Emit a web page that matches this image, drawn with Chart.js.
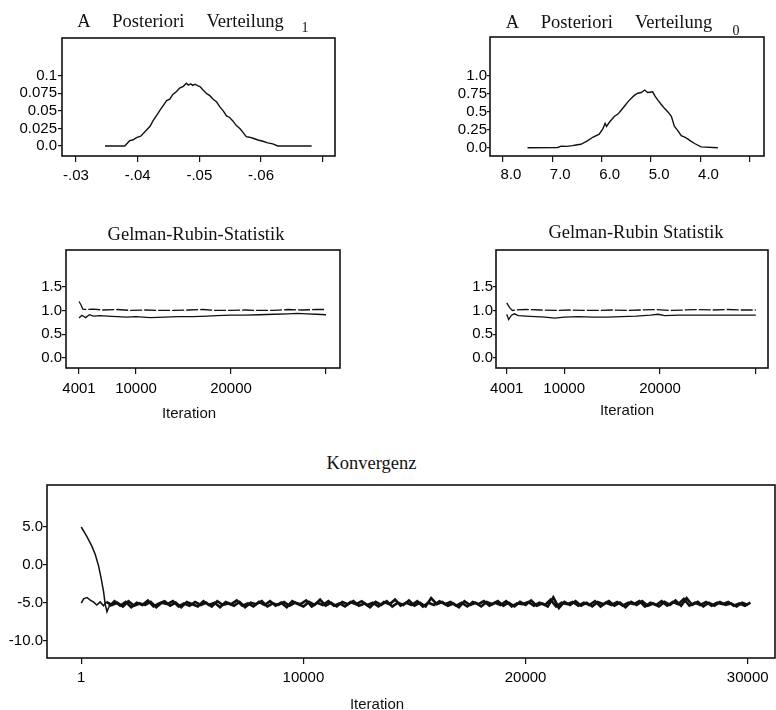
<!DOCTYPE html>
<html>
<head>
<meta charset="utf-8">
<script src="https://cdn.jsdelivr.net/npm/chart.js@4"></script>
<style>
  body { margin: 0; width: 776px; height: 710px; overflow: hidden; background: #fff; position: relative; }
  canvas { position: absolute; }
  .t { position: absolute; transform: translate(-50%, -50%); white-space: pre; line-height: 1; color: #111; }
  .serif { font-family: "Liberation Serif", "DejaVu Serif", serif; font-size: 18.5px; }
  .sans { font-family: "Liberation Sans", Arial, sans-serif; font-size: 15px; }
  .sub { font-family: "Liberation Serif", serif; font-size: 14px; }
</style>
</head>
<body>
<canvas id="p1"></canvas>
<canvas id="p2"></canvas>
<canvas id="p3"></canvas>
<canvas id="p4"></canvas>
<canvas id="p5"></canvas>

<div class="t serif" style="left:180.5px; top:20.5px; word-spacing:18px;">A Posteriori Verteilung</div>
<div class="t sub" style="left:305px; top:28px;">1</div>
<div class="t serif" style="left:609px; top:22px; word-spacing:18px;">A Posteriori Verteilung</div>
<div class="t sub" style="left:736px; top:30.5px;">0</div>
<div class="t serif" style="left:196px; top:233.5px;">Gelman-Rubin-Statistik</div>
<div class="t serif" style="left:636px; top:232px;">Gelman-Rubin Statistik</div>
<div class="t serif" style="left:371.5px; top:463px;">Konvergenz</div>
<div class="t sans" style="left:189px; top:412px;">Iteration</div>
<div class="t sans" style="left:627px; top:409px;">Iteration</div>
<div class="t sans" style="left:377px; top:703px;">Iteration</div>

<script>
// ---- posterior of beta 1
let post1X = [-0.0347, -0.0379, -0.0387, -0.0392, -0.0398, -0.0405, -0.0414, -0.0420, -0.0425, -0.0431, -0.0436, -0.0441,
  -0.0447, -0.0452, -0.0457, -0.0463, -0.0468, -0.0474, -0.0479, -0.0482, -0.0486, -0.0489, -0.0493, -0.0497, -0.0501,
  -0.0506, -0.0512, -0.0517, -0.0522, -0.0528, -0.0533, -0.0539, -0.0544, -0.0549, -0.0554, -0.0560, -0.0566, -0.0571,
  -0.0576, -0.0581, -0.0587, -0.0595, -0.0603, -0.0611, -0.0619, -0.0627, -0.0682]
let post1Y = [0, 0, 0.0076, 0.0085, 0.012, 0.014, 0.0223, 0.028, 0.036, 0.044, 0.0507, 0.057,
  0.0645, 0.0665, 0.0733, 0.0775, 0.0823, 0.0848, 0.089, 0.0865, 0.0884, 0.0862, 0.0877, 0.0858, 0.0843,
  0.0795, 0.0743, 0.0715, 0.0667, 0.0625, 0.056, 0.0495, 0.0427, 0.0405, 0.036, 0.029, 0.0244, 0.019,
  0.0133, 0.0125, 0.011, 0.0085, 0.0067, 0.0045, 0.003, 0, 0]
let post1Ticks = [-0.03, -0.04, -0.05, -0.06, -0.07]
let post1TickLabels = ["-.03", "-.04", "-.05", "-.06", ""]
let post1YTicks = [0, 0.025, 0.05, 0.075, 0.1]
let post1YLabels = ["0.0", "0.025", "0.05", "0.075", "0.1"]

// ---- posterior of beta 0
let post0X = [7.5, 6.89, 6.82, 6.70, 6.59, 6.52, 6.42, 6.28, 6.18, 6.05, 5.98, 5.93, 5.90, 5.84, 5.74, 5.67, 5.61,
  5.54, 5.47, 5.40, 5.34, 5.27, 5.20, 5.13, 5.07, 5.02, 4.97, 4.92, 4.86, 4.79, 4.73, 4.66, 4.59, 4.53, 4.46,
  4.39, 4.32, 4.26, 4.19, 4.12, 3.99, 3.65]
let post0Y = [0, 0.005, 0.023, 0.02, 0.03, 0.04, 0.049, 0.10, 0.147, 0.19, 0.26, 0.34, 0.30, 0.36, 0.44, 0.47, 0.52,
  0.58, 0.64, 0.69, 0.73, 0.76, 0.77, 0.805, 0.77, 0.775, 0.78, 0.72, 0.66, 0.6, 0.55, 0.5, 0.44, 0.30, 0.24,
  0.17, 0.15, 0.125, 0.09, 0.06, 0.013, 0]
let post0Ticks = [8, 7, 6, 5, 4, 3]
let post0TickLabels = ["8.0", "7.0", "6.0", "5.0", "4.0", ""]
let post0YTicks = [0, 0.25, 0.5, 0.75, 1.0]
let post0YLabels = ["0.0", "0.25", "0.5", "0.75", "1.0"]

// ---- Gelman-Rubin, left
let grAIterUp = [4001, 4200, 4400, 4800, 5500, 6500, 8000, 9500, 11000, 12500, 14000, 15500, 17000, 18500, 20000,
  21500, 23000, 24500, 26000, 27500, 29000, 30000]
let grAUp = [1.19, 1.12, 1.03, 1.02, 1.03, 1.01, 1.02, 1.0, 1.01, 1.0, 1.0, 1.01, 1.02, 1.0, 1.0,
  1.01, 1.0, 1.0, 1.02, 1.01, 1.02, 1.02]
let grAIterLow = [4001, 4300, 4700, 5100, 5500, 6200, 7000, 8000, 9000, 10000, 11500, 13000, 14500, 16000, 17500,
  18500, 20000, 21500, 23000, 24500, 26000, 27000, 28000, 29000, 30000]
let grALow = [0.84, 0.9, 0.85, 0.91, 0.88, 0.89, 0.88, 0.87, 0.86, 0.87, 0.85, 0.86, 0.87, 0.87, 0.88,
  0.89, 0.9, 0.9, 0.91, 0.92, 0.93, 0.94, 0.93, 0.92, 0.91]

// ---- Gelman-Rubin, right
let grBIterUp = [4001, 4300, 4600, 5000, 6000, 7500, 9000, 10500, 12000, 13500, 15000, 16500, 18000, 19500, 21000,
  22500, 24000, 25500, 27000, 28500, 30000]
let grBUp = [1.16, 1.06, 1.0, 1.01, 1.02, 1.01, 1.0, 1.01, 1.0, 1.0, 1.01, 1.0, 1.01, 1.02, 1.0,
  1.01, 1.02, 1.01, 1.02, 1.01, 1.01]
let grBIterLow = [4001, 4200, 4500, 4800, 5200, 6000, 7000, 8000, 9000, 10000, 11500, 13000, 14500, 16000, 17500,
  19000, 19800, 20500, 22000, 24000, 26000, 28000, 30000]
let grBLow = [0.92, 0.81, 0.9, 0.93, 0.89, 0.88, 0.87, 0.86, 0.84, 0.86, 0.87, 0.86, 0.86, 0.87, 0.88,
  0.9, 0.92, 0.89, 0.9, 0.9, 0.9, 0.9, 0.9]

let grTicks = [4001, 10000, 20000, 30000]
let grTickLabels = ["4001", "10000", "20000", ""]
let grYTicks = [0, 0.5, 1.0, 1.5]
let grYLabels = ["0.0", "0.5", "1.0", "1.5"]

// ---- Konvergenz: two chains, start segment + samples every 250 iterations
let chain1StartIter = [1, 256, 481, 630, 779, 900, 1004, 1080, 1157]
let chain1Start = [5.0, 3.72, 2.44, 1.36, -0.13, -1.85, -3.55, -5.26, -6.2]
let chain2StartIter = [1, 105, 256, 406, 555, 700, 850, 1000]
let chain2Start = [-5.05, -4.49, -4.32, -4.67, -4.92, -5.3, -4.9, -5.4]
let chain1From = 1250
let chain2From = 1125
let chainStep = 250
let chain1 = [
  -5.5, -4.8, -5.4, -4.9, -5.6, -5.0, -5.3, -4.7, -5.5, -5.1,
  -4.8, -5.4, -5.0, -5.6, -4.9, -5.2, -5.5, -4.8, -5.3, -5.0,
  -5.6, -4.9, -5.2, -4.7, -5.4, -5.1, -5.5, -4.9, -5.3, -4.8,
  -5.4, -5.0, -5.6, -4.8, -5.2, -5.5, -4.9, -5.3, -4.6, -5.4,
  -5.0, -5.5, -4.9, -5.2, -4.8, -5.4, -5.1, -5.6, -4.9, -5.3,
  -4.8, -5.5, -5.0, -5.3, -4.7, -5.4, -5.0, -5.5, -4.4, -5.2,
  -4.9, -5.4, -5.1, -5.6, -4.8, -5.3, -5.0, -5.5, -4.9, -5.2,
  -4.8, -5.4, -5.0, -5.5, -4.9, -5.3, -4.7, -5.4, -5.1, -5.5,
  -4.3, -5.7, -4.9, -5.3, -4.8, -5.4, -5.0, -5.5, -4.9, -5.2,
  -4.8, -5.4, -5.0, -5.6, -4.9, -5.3, -4.8, -5.4, -5.1, -5.5,
  -4.9, -5.3, -4.7, -5.4, -4.4, -5.3, -4.9, -5.5, -5.0, -5.4,
  -4.9, -5.3, -5.1, -5.5, -5.0, -5.3]
let chain2 = [
  -4.9, -5.3, -5.0, -5.5, -4.8, -5.4, -5.1, -5.3, -4.9, -5.6,
  -5.0, -5.2, -4.8, -5.5, -5.1, -5.4, -4.9, -5.3, -5.0, -5.5,
  -4.8, -5.3, -5.1, -5.4, -4.9, -5.6, -5.0, -5.2, -4.8, -5.5,
  -5.1, -5.3, -4.9, -5.4, -5.0, -5.2, -4.7, -5.5, -5.0, -5.3,
  -4.8, -5.4, -5.1, -5.5, -4.9, -5.2, -4.8, -5.3, -5.0, -5.5,
  -4.9, -5.2, -4.6, -5.4, -5.0, -5.3, -4.8, -5.5, -5.0, -5.3,
  -4.8, -5.2, -4.9, -5.4, -5.0, -5.5, -4.9, -5.2, -4.8, -5.4,
  -5.0, -5.3, -4.8, -5.5, -5.1, -5.2, -4.9, -5.4, -5.0, -5.3,
  -4.6, -5.5, -5.0, -5.2, -4.9, -5.4, -5.0, -5.3, -4.8, -5.5,
  -5.0, -5.3, -4.9, -5.4, -5.0, -5.2, -4.8, -5.5, -5.0, -5.3,
  -4.8, -5.4, -4.9, -5.2, -4.5, -5.4, -5.0, -5.3, -4.9, -5.4,
  -5.0, -5.2, -4.9, -5.4, -5.1, -5.4, -5.0]
let konvTicks = [1, 10000, 20000, 30000]
let konvTickLabels = ["1", "10000", "20000", "30000"]
let konvYTicks = [-10, -5, 0, 5]
let konvYLabels = ["-10.0", "-5.0", "0.0", "5.0"]

const INK = '#111'
const TICK_FONT = { family: '"Liberation Sans", Arial, sans-serif', size: 15 }

function pairs(xs, ys) {
  return xs.map((x, i) => ({ x: x, y: ys[i] }))
}
function chainBand(from, vals) {
  return vals.map((v, i) => ({ x: from + i * chainStep, y: v }))
}
function chainHead(startIter, start, from, vals) {
  // start segment, joined to the first regular sample
  let d = pairs(startIter, start)
  d.push({ x: from, y: vals[0] })
  return d
}

let framePlugin = {
  id: 'frame',
  afterDraw(chart) {
    let a = chart.chartArea
    let c = chart.ctx
    c.save()
    c.strokeStyle = INK
    c.lineWidth = 1.6
    c.strokeRect(a.left, a.top, a.right - a.left, a.bottom - a.top)
    c.restore()
  }
}

function axis(o) {
  return {
    type: 'linear',
    reverse: !!o.reverse,
    min: o.min,
    max: o.max,
    afterBuildTicks: s => { s.ticks = o.ticks.map(v => ({ value: v })) },
    afterFit: s => { if (o.width) s.width = o.width; if (o.height) s.height = o.height },
    ticks: {
      autoSkip: false, maxRotation: 0, color: '#000', font: TICK_FONT,
      padding: o.padding, labelOffset: o.labelOffset || 0,
      callback: (v, i) => o.labels[i]
    },
    grid: { display: true, drawOnChartArea: false, drawTicks: true, tickLength: o.tickLength, color: INK, lineWidth: 1.2 },
    border: { display: false }
  }
}

function panel(id, frame, yW, xOpts, yOpts, datasets) {
  // frame = [left, top, right, bottom] of the plot box on the page
  let padT = 4, padR = 6, xH = 44
  let cv = document.getElementById(id)
  let w = frame[2] - frame[0] + yW + padR
  let h = frame[3] - frame[1] + padT + xH
  cv.width = w
  cv.height = h
  cv.style.left = (frame[0] - yW) + 'px'
  cv.style.top = (frame[1] - padT) + 'px'
  xOpts.height = xH
  yOpts.width = yW
  return new Chart(cv, {
    type: 'scatter',
    data: { datasets: datasets },
    options: {
      responsive: false,
      animation: false,
      events: [],
      layout: { padding: { top: padT, right: padR, left: 0, bottom: 0 } },
      plugins: { legend: { display: false }, tooltip: { enabled: false } },
      scales: { x: axis(xOpts), y: axis(yOpts) }
    },
    plugins: [framePlugin]
  })
}

function line(data, width, dash) {
  return { data: data, showLine: true, borderColor: INK, borderWidth: width, pointRadius: 0, borderDash: dash || [], tension: 0 }
}

panel('p1', [62, 32, 335, 156], 60,
  { min: -0.07199, max: -0.02773, reverse: true, ticks: post1Ticks, labels: post1TickLabels, tickLength: 6, padding: 5 },
  { min: -0.0142, max: 0.1534, ticks: post1YTicks, labels: post1YLabels, tickLength: 4, padding: 1 },
  [line(pairs(post1X, post1Y), 1.4)])

panel('p2', [490, 32, 764, 156], 60,
  { min: 2.716, max: 8.259, reverse: true, ticks: post0Ticks, labels: post0TickLabels, tickLength: 6, padding: 4, labelOffset: 8 },
  { min: -0.114, max: 1.544, ticks: post0YTicks, labels: post0YLabels, tickLength: 3, padding: 0 },
  [line(pairs(post0X, post0Y), 1.4)])

panel('p3', [66, 245, 340, 368], 60,
  { min: 2632, max: 31474, ticks: grTicks, labels: grTickLabels, tickLength: 6, padding: 6 },
  { min: -0.212, max: 2.274, ticks: grYTicks, labels: grYLabels, tickLength: 4, padding: 0 },
  [line(pairs(grAIterUp, grAUp), 1.3, [12, 2]), line(pairs(grAIterLow, grALow), 1.3)])

panel('p4', [496, 245, 768, 368], 60,
  { min: 2881, max: 31273, ticks: grTicks, labels: grTickLabels, tickLength: 6, padding: 6 },
  { min: -0.212, max: 2.274, ticks: grYTicks, labels: grYLabels, tickLength: 3, padding: 0 },
  [line(pairs(grBIterUp, grBUp), 1.3, [12, 2]), line(pairs(grBIterLow, grBLow), 1.3)])

panel('p5', [47, 480, 775, 658], 46,
  { min: -1542, max: 31228, ticks: konvTicks, labels: konvTickLabels, tickLength: 6, padding: 5 },
  { min: -12.31, max: 10.55, ticks: konvYTicks, labels: konvYLabels, tickLength: 4, padding: 0 },
  [line(chainHead(chain2StartIter, chain2Start, chain2From, chain2), 1.5),
   line(chainHead(chain1StartIter, chain1Start, chain1From, chain1), 1.5),
   line(chainBand(chain2From, chain2), 2.6),
   line(chainBand(chain1From, chain1), 2.6)])
</script>
</body>
</html>
